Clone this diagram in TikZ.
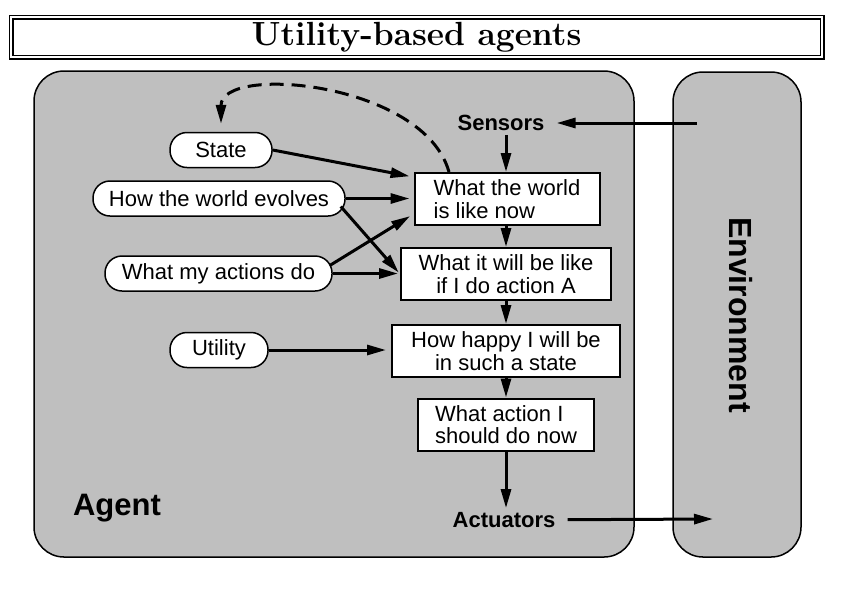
\documentclass[tikz,border=0pt]{standalone}
\usepackage{fontspec}
\newfontfamily\helv{Liberation Sans}
\usetikzlibrary{arrows.meta,calc}

\begin{document}
\begin{tikzpicture}[x=1pt, y=-1pt, >={Triangle[length=19pt,width=10pt]}]
    \tikzset{
        panel/.style={draw, fill=black!25, line width=1.5pt, rounded corners=30pt, inner sep=0pt},
        oval/.style={draw, fill=white, line width=1.5pt, rounded corners=17pt, minimum height=35pt, inner sep=0pt, font=\helv\fontsize{22}{22}\selectfont},
        block/.style={draw, fill=white, line width=2pt, minimum height=52pt, inner sep=0pt, font=\helv\fontsize{22}{22.5}\selectfont},
        port/.style={font=\helv\bfseries\fontsize{22}{22}\selectfont, inner xsep=12pt, inner ysep=4pt},
        line/.style={draw, ->, line width=3pt}
    }
    \useasboundingbox (0,0) rectangle (845,590);
    \node [draw, double, line width=1.5pt, double distance=2pt, minimum width=811pt, minimum height=40pt, inner sep=0pt,
           font=\bfseries\fontsize{33.5}{36}\selectfont] (title) at (416.5,37) {Utility-based agents};

    \node [panel, minimum width=600pt, minimum height=486pt] (agent) at (334,314) {};
    \node [panel, minimum width=128pt, minimum height=485pt] (env) at (737,314.5) {};
    \node [rotate=-90, font=\helv\bfseries\fontsize{32}{32}\selectfont] (envlabel) at (741,315) {Environment};
    \node [font=\helv\bfseries\fontsize{31}{31}\selectfont] (agentlabel) at (117,508) {Agent};

    \node [port] (sensors) at (501,123) {Sensors};
    \node [port] (actuators) at (504,520) {Actuators};

    \node [block, minimum width=185pt, align=left] (world) at (507,199) {What the world\\is like now};
    \node [block, minimum width=210pt, align=center] (future) at (506,274) {What it will be like\\if I do action A};
    \node [block, minimum width=228pt, align=center] (happy) at (506,351) {How happy I will be\\in such a state};
    \node [block, minimum width=176pt, align=left] (action) at (506,424.5) {What action I\\should do now};

    \node [oval, minimum width=102pt] (state) at (221,150) {State};
    \node [oval, minimum width=252pt] (evolve) at (219,198.5) {How the world evolves};
    \node [oval, minimum width=227pt] (effect) at (218.5,273.5) {What my actions do};
    \node [oval, minimum width=98pt] (utility) at (219,350) {Utility};

    % percepts in, actions out
    \coordinate (envin) at (697,123);
    \coordinate (envout) at (713,519);
    \path [line] (envin) -- (sensors);
    \path [line] (actuators) -- (envout);

    % main chain
    \path [line] (sensors.south -| future.north) -- (world.north -| future.north);
    \path [line] (world.south -| future.north) -- (future.north);
    \path [line] (future.south) -- (happy.north);
    \path [line] (happy.south) -- (action.north);
    \path [line] (action.south) -- (actuators.north -| action.south);

    % knowledge
    \path [line, shorten >=4pt] (state.east) -- ([yshift=-5pt]world.north west);
    \path [line, shorten >=4pt] (evolve.east) -- (evolve.east -| world.west);
    \path [line, shorten >=2pt] ([xshift=-5pt,yshift=-8pt]evolve.east) -- (future.west);
    \path [line, shorten >=4pt] ([xshift=-3pt,yshift=8pt]effect.east) -- ([yshift=12pt]world.south west);
    \path [line, shorten >=2pt] (effect.east) -- (effect.east -| future.west);
    \path [line, shorten >=5pt] (utility.east) -- (utility.east -| happy.west);

    % state update
    \draw [line, dash pattern=on 14pt off 8pt] ([xshift=-58pt]world.north) .. controls +(-25,-90) and +(0,-60) .. ([yshift=8pt]state.north);
\end{tikzpicture}
\end{document}
